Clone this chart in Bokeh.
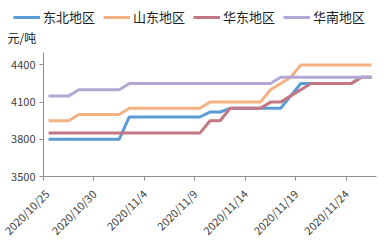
import math
from bokeh.plotting import figure
from bokeh.layouts import column
from bokeh.models import Range1d, FixedTicker, Legend, LegendItem, Label, ColumnDataSource
from bokeh.embed import file_html
from bokeh.resources import INLINE

# ---- data ----
dates = ["2020/10/25", "2020/10/26", "2020/10/27", "2020/10/28", "2020/10/29", "2020/10/30",
         "2020/10/31", "2020/11/1", "2020/11/2", "2020/11/3", "2020/11/4", "2020/11/5",
         "2020/11/6", "2020/11/7", "2020/11/8", "2020/11/9", "2020/11/10", "2020/11/11",
         "2020/11/12", "2020/11/13", "2020/11/14", "2020/11/15", "2020/11/16", "2020/11/17",
         "2020/11/18", "2020/11/19", "2020/11/20", "2020/11/21", "2020/11/22", "2020/11/23",
         "2020/11/24", "2020/11/25", "2020/11/26"]
tick_labels = ["2020/10/25", "2020/10/30", "2020/11/4", "2020/11/9", "2020/11/14",
               "2020/11/19", "2020/11/24"]

dongbei = [3800, 3800, 3800, 3800, 3800, 3800, 3800, 3800, 3980, 3980, 3980, 3980,
           3980, 3980, 3980, 3980, 4020, 4020, 4050, 4050, 4050, 4050, 4050, 4050,
           4150, 4250, 4250, 4250, 4250, 4250, 4250, 4300, 4300]
shandong = [3950, 3950, 3950, 4000, 4000, 4000, 4000, 4000, 4050, 4050, 4050, 4050,
            4050, 4050, 4050, 4050, 4100, 4100, 4100, 4100, 4100, 4100, 4200, 4250,
            4300, 4400, 4400, 4400, 4400, 4400, 4400, 4400, 4400]
huadong = [3850, 3850, 3850, 3850, 3850, 3850, 3850, 3850, 3850, 3850, 3850, 3850,
           3850, 3850, 3850, 3850, 3950, 3950, 4050, 4050, 4050, 4050, 4100, 4100,
           4150, 4200, 4250, 4250, 4250, 4250, 4250, 4300, 4300]
huanan = [4150, 4150, 4150, 4200, 4200, 4200, 4200, 4200, 4250, 4250, 4250, 4250,
          4250, 4250, 4250, 4250, 4250, 4250, 4250, 4250, 4250, 4250, 4250, 4300,
          4300, 4300, 4300, 4300, 4300, 4300, 4300, 4300, 4300]

names = ["东北地区", "山东地区", "华东地区", "华南地区"]
series = [dongbei, shandong, huadong, huanan]
colors = ["#5B9BD5", "#F4B183", "#C27782", "#B4A7D6"]
y_ticks = [3500, 3800, 4100, 4400]
unit_text = "元/吨"

FONT = "Noto Sans CJK SC"

# x position: each day sits in the middle of its one-day slot
xs = [i + 0.5 for i in range(len(dates))]

# ---- header (legend + unit) ----
top = figure(width=392, height=52, output_backend="svg", toolbar_location=None,
             x_range=Range1d(1000, 1392), y_range=Range1d(0, 52),
             x_axis_location=None, y_axis_location=None,
             min_border=0, min_border_left=0, min_border_right=0,
             min_border_top=0, min_border_bottom=0)
top.frame_align = False
top.grid.visible = False
top.outline_line_color = None

items = []
for name, vals, col in zip(names, series, colors):
    # same series, drawn outside the header's visible range; only its legend swatch shows
    r = top.line(xs, vals, line_color=col, line_width=3)
    items.append(LegendItem(label=name, renderers=[r]))

legend = Legend(items=items, orientation="horizontal", location=(13, 26),
                label_text_font=FONT, label_text_font_size="13px", label_text_color="#202020",
                glyph_width=27, glyph_height=14, label_standoff=3, spacing=8,
                label_width=0, padding=0, margin=0, border_line_color=None,
                background_fill_alpha=0)
top.add_layout(legend)

top.add_layout(Label(x=1007, y=7, text=unit_text, text_font=FONT,
                     text_font_size="12px", text_color="#202020"))

# ---- main chart ----
p = figure(width=392, height=194, output_backend="svg", toolbar_location=None,
           x_range=Range1d(0, len(dates)), y_range=Range1d(3500, 4500),
           min_border_left=43, min_border_right=16, min_border_top=0, min_border_bottom=62)
p.frame_align = False
p.outline_line_color = None
p.xgrid.visible = False
p.ygrid.visible = False

for name, vals, col in zip(names, series, colors):
    src = ColumnDataSource(dict(x=xs, y=vals, d=dates))
    p.line("x", "y", source=src, line_color=col, line_width=3)

p.yaxis.ticker = FixedTicker(ticks=y_ticks)
p.yaxis.major_label_text_font = FONT
p.yaxis.major_label_text_font_size = "11px"
p.yaxis.major_label_text_color = "#404040"
p.yaxis.axis_line_color = "#8C8C8C"
p.yaxis.major_tick_line_color = "#8C8C8C"
p.yaxis.major_tick_out = 4
p.yaxis.major_tick_in = 0
p.yaxis.minor_tick_out = 0
p.yaxis.minor_tick_in = 0
p.yaxis.major_label_standoff = 4

tick_pos = [dates.index(t) for t in tick_labels]
p.xaxis.ticker = FixedTicker(ticks=tick_pos)
p.xaxis.major_label_overrides = {tp: t for tp, t in zip(tick_pos, tick_labels)}
p.xaxis.major_label_orientation = math.pi / 4
p.xaxis.major_label_text_font = FONT
p.xaxis.major_label_text_font_size = "11px"
p.xaxis.major_label_text_color = "#404040"
p.xaxis.axis_line_color = "#8C8C8C"
p.xaxis.major_tick_line_color = "#8C8C8C"
p.xaxis.major_tick_out = 4
p.xaxis.major_tick_in = 0
p.xaxis.minor_tick_out = 0
p.xaxis.minor_tick_in = 0
p.xaxis.major_label_standoff = 11

layout = column(top, p, spacing=0)
open("out.html", "w").write(file_html(layout, INLINE))
